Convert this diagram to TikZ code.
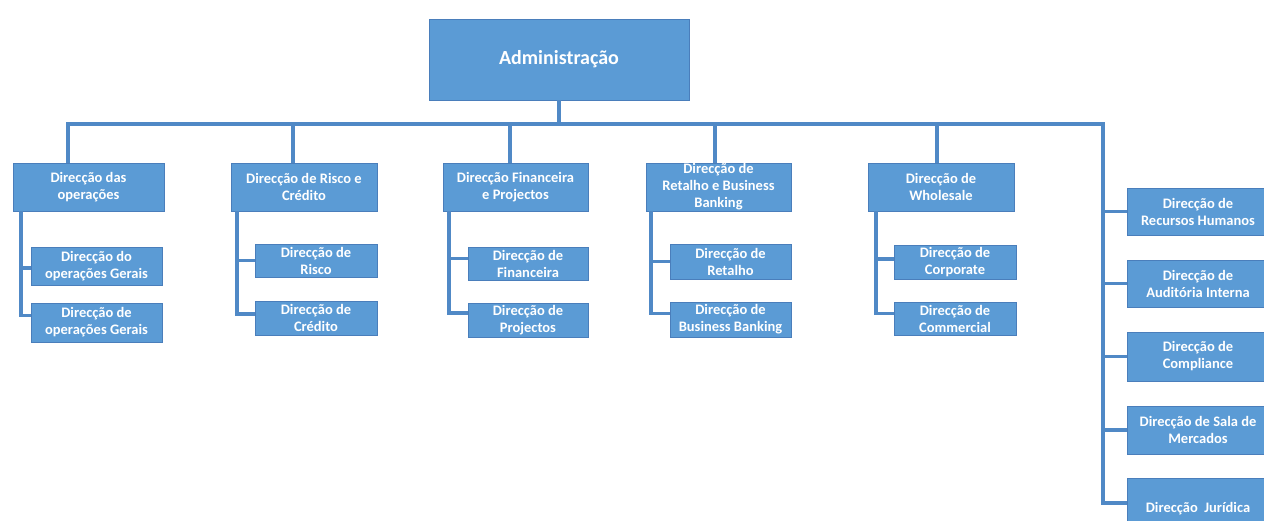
\documentclass[tikz,border=0pt]{standalone}
\usepackage{fontspec}
\setmainfont{Carlito}
\definecolor{boxfill}{HTML}{5B9BD5}
\definecolor{boxedge}{HTML}{4A7EBB}
\definecolor{wirecol}{HTML}{5089C6}

\begin{document}
\begin{tikzpicture}[x=1pt,y=-1pt,
  unit/.style={draw=boxedge, line width=0.8pt, fill=boxfill, text=white,
    font=\bfseries\fontsize{14.5}{17}\selectfont, align=center, inner sep=0pt},
  head/.style={unit, font=\bfseries\fontsize{20}{24}\selectfont},
  wire/.style={draw=wirecol, line width=3.2pt}
]
\useasboundingbox (0,0) rectangle (1264,520);
\clip (0,0) rectangle (1264,520);

% top of the chart
\node[head, minimum width=260, minimum height=81] (top) at (559,59.5) {Administração};

% first level
\node[unit, minimum width=151, minimum height=48] (a) at (88.5,187) {Direcção das\\operações};
\node[unit, minimum width=146, minimum height=48] (b) at (304,187) {Direcção de Risco e\\Crédito};
\node[unit, minimum width=145, minimum height=48] (c) at (515.5,187) {Direcção Financeira\\e Projectos};
\node[unit, minimum width=145, minimum height=48] (d) at (718.5,187) {Direcção de\\Retalho e Business\\Banking};
\node[unit, minimum width=146, minimum height=48] (e) at (941,187) {Direcção de\\Wholesale};

% second level
\node[unit, minimum width=131, minimum height=38] (a1) at (96.5,266) {Direcção do\\operações Gerais};
\node[unit, minimum width=131, minimum height=39] (a2) at (96.5,322.5) {Direcção de\\operações Gerais};
\node[unit, minimum width=122, minimum height=33] (b1) at (316,260.5) {Direcção de\\Risco};
\node[unit, minimum width=122, minimum height=34] (b2) at (316,318) {Direcção de\\Crédito};
\node[unit, minimum width=120, minimum height=33] (c1) at (528,263.5) {Direcção de\\Financeira};
\node[unit, minimum width=120, minimum height=34] (c2) at (528,320) {Direcção de\\Projectos};
\node[unit, minimum width=121, minimum height=35] (d1) at (730.5,261.5) {Direcção de\\Retalho};
\node[unit, minimum width=121, minimum height=35] (d2) at (730.5,319.5) {Direcção de\\Business Banking};
\node[unit, minimum width=122, minimum height=34] (e1) at (955,262) {Direcção de\\Corporate};
\node[unit, minimum width=122, minimum height=33] (e2) at (955,318.5) {Direcção de\\Commercial};

% staff units on the right
\node[unit, minimum width=142, minimum height=47] (r1) at (1198,211.5) {Direcção de\\Recursos Humanos};
\node[unit, minimum width=142, minimum height=47] (r2) at (1198,283.5) {Direcção de\\Auditória Interna};
\node[unit, minimum width=142, minimum height=49] (r3) at (1198,356.5) {Direcção de\\Compliance};
\node[unit, minimum width=142, minimum height=48] (r4) at (1198,430) {Direcção de Sala de\\Mercados};
\node[unit, minimum width=142, minimum height=62] (r5) at (1198,509) {Direcção\ \ Jurídica};

% bus and stems
\coordinate (sa) at (68,124);
\coordinate (sb) at (293,124);
\coordinate (sc) at (510,124);
\coordinate (sd) at (715,124);
\coordinate (se) at (937,124);
\coordinate (sr) at (1103,124);

\draw[wire] (top.south) -- (top.south |- sa);
\draw[wire] (a.north -| sa) |- (sr) |- ([yshift=6]r5.west);
\draw[wire] (sb) -- (sb |- b.north);
\draw[wire] (sc) -- (sc |- c.north);
\draw[wire] (sd) -- (sd |- d.north);
\draw[wire] (se) -- (se |- e.north);
\draw[wire] (sr |- r1.west) -- (r1.west);
\draw[wire] (sr |- r2.west) -- (r2.west);
\draw[wire] (sr |- r3.west) -- (r3.west);
\draw[wire] (sr |- r4.west) -- (r4.west);

% branches to the second level
\coordinate (va) at (21,0);
\coordinate (vb) at (237,0);
\coordinate (vc) at (449,0);
\coordinate (vd) at (651,0);
\coordinate (ve) at (876,0);

\draw[wire] (a.south -| va) |- ([yshift=7]a2.west);
\draw[wire] ([yshift=-2]a1.west -| va) -- ([yshift=-2]a1.west);
\draw[wire] (b.south -| vb) |- ([yshift=4]b2.west);
\draw[wire] (b1.west -| vb) -- (b1.west);
\draw[wire] (c.south -| vc) |- ([yshift=7]c2.west);
\draw[wire] ([yshift=5]c1.west -| vc) -- ([yshift=5]c1.west);
\draw[wire] (d.south -| vd) |- ([yshift=6]d2.west);
\draw[wire] (d1.west -| vd) -- (d1.west);
\draw[wire] (e.south -| ve) |- ([yshift=5]e2.west);
\draw[wire] ([yshift=3]e1.west -| ve) -- ([yshift=3]e1.west);
\end{tikzpicture}
\end{document}
